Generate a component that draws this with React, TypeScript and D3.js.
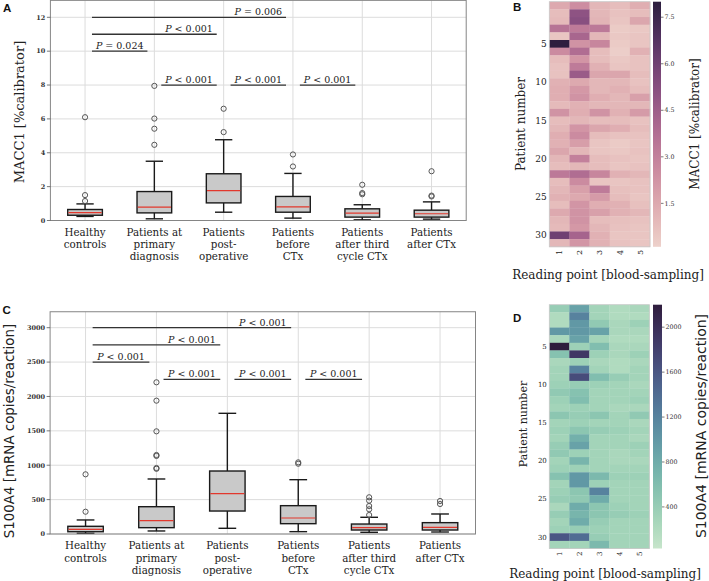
import React from "react";
import * as d3 from "d3";

const W = 709;
const H = 581;

// ---------- category labels ----------
const categoryLines = [
  ["Healthy", "controls"],
  ["Patients at", "primary", "diagnosis"],
  ["Patients", "post-", "operative"],
  ["Patients", "before", "CTx"],
  ["Patients", "after third", "cycle CTx"],
  ["Patients", "after CTx"],
];

// ---------- MACC1 box statistics ----------
const maccLow = [0.24, 0.1, 0.49, 0.14, 0.04, 0.08];
const maccQ1 = [0.31, 0.45, 1.04, 0.49, 0.2, 0.2];
const maccMed = [0.47, 0.79, 1.77, 0.81, 0.43, 0.4];
const maccQ3 = [0.65, 1.71, 2.76, 1.42, 0.69, 0.61];
const maccHigh = [0.98, 3.5, 4.77, 2.78, 0.93, 1.1];
const maccOut = [
  [6.1, 1.5, 1.15],
  [7.95, 6.02, 5.42, 4.47],
  [6.6, 5.22],
  [3.9, 3.19],
  [2.11, 1.62, 1.55],
  [2.91, 1.47, 1.42],
];
const maccTicks = [0, 2, 4, 6, 8, 10, 12];
const maccSigA = [0, 0, 0, 1, 2, 3];
const maccSigB = [3, 2, 1, 2, 3, 4];
const maccSigY = [12, 11, 10, 8, 8, 8];
const maccSigText = ["= 0.006", "< 0.001", "= 0.024", "< 0.001", "< 0.001", "< 0.001"];

// ---------- S100A4 box statistics ----------
const s100Low = [10, 44, 83, 34, 25, 29];
const s100Q1 = [33, 92, 334, 150, 58, 58];
const s100Med = [68, 194, 586, 233, 92, 97];
const s100Q3 = [112, 397, 916, 412, 145, 165];
const s100High = [204, 800, 1755, 790, 243, 291];
const s100Out = [
  [868, 324],
  [2206, 1939, 1493, 1149, 1135, 960, 948],
  [],
  [1042, 1022],
  [534, 485, 407, 359, 276],
  [480, 436],
];
const s100Ticks = [0, 500, 1000, 1500, 2000, 2500, 3000];
const s100SigA = [0, 0, 0, 1, 2, 3];
const s100SigB = [3, 2, 1, 2, 3, 4];
const s100SigY = [3000, 2750, 2500, 2250, 2250, 2250];
const s100SigText = ["< 0.001", "< 0.001", "< 0.001", "< 0.001", "< 0.001", "< 0.001"];

// ---------- heatmaps (rows = patients 0..31, cols = reading points 1..5) ----------
const readingPoints = ["1", "2", "3", "4", "5"];
const patientTicks = [5, 10, 15, 20, 25, 30];

const maccHeat = [
  [1.5, 2.5, 1.0, 0.8, 1.3],
  [0.8, 5.0, 1.0, 0.6, 0.8],
  [0.9, 5.2, 1.1, 0.5, 1.6],
  [3.5, 3.2, 3.3, 0.3, 0.4],
  [0.5, 4.1, 1.0, 0.4, 0.5],
  [8.0, 2.3, 2.8, 0.3, 0.5],
  [2.6, 3.8, 0.8, 0.2, 1.2],
  [0.8, 2.2, 0.8, 0.4, 0.6],
  [0.6, 3.2, 1.2, 0.5, 0.6],
  [0.6, 4.6, 1.6, 1.6, 0.8],
  [1.2, 1.5, 1.0, 1.0, 0.6],
  [1.3, 2.1, 1.0, 1.2, 0.8],
  [1.3, 2.3, 1.3, 1.0, 1.8],
  [0.9, 1.2, 1.0, 1.0, 1.0],
  [2.3, 1.3, 2.3, 1.2, 2.0],
  [0.8, 1.0, 0.8, 0.8, 0.6],
  [1.0, 2.2, 1.6, 1.3, 0.8],
  [1.3, 2.6, 0.8, 0.6, 0.6],
  [1.2, 1.9, 0.5, 0.3, 0.5],
  [1.6, 1.0, 0.5, 0.4, 0.6],
  [1.0, 3.0, 0.8, 0.6, 0.5],
  [0.8, 1.0, 0.8, 0.5, 0.6],
  [3.3, 3.8, 2.8, 1.2, 1.0],
  [0.8, 2.6, 0.5, 0.5, 0.6],
  [1.0, 1.8, 3.2, 0.7, 0.6],
  [1.2, 1.5, 2.0, 0.8, 0.5],
  [0.8, 2.2, 1.3, 1.2, 0.7],
  [1.5, 2.3, 1.8, 1.2, 1.0],
  [1.0, 2.3, 0.8, 0.7, 0.6],
  [0.9, 2.1, 1.0, 0.6, 0.5],
  [6.0, 4.2, 1.2, 0.5, 0.5],
  [1.0, 2.2, 1.2, 0.6, 0.5],
];
const maccHeatMin = 0.1;
const maccHeatMax = 8.0;
const maccBarTicks = [1.5, 3.0, 4.5, 6.0, 7.5];

const s100Heat = [
  [400, 900, 300, 200, 250],
  [200, 1200, 300, 200, 200],
  [200, 1000, 450, 250, 350],
  [1000, 1000, 900, 250, 250],
  [250, 900, 300, 200, 200],
  [2200, 350, 600, 250, 250],
  [550, 1900, 350, 250, 350],
  [250, 350, 250, 200, 250],
  [300, 1200, 300, 200, 300],
  [300, 1700, 600, 400, 300],
  [350, 400, 350, 300, 250],
  [450, 550, 300, 300, 300],
  [350, 600, 300, 300, 350],
  [300, 350, 300, 250, 250],
  [500, 400, 500, 300, 450],
  [300, 350, 300, 300, 250],
  [350, 500, 400, 350, 300],
  [300, 750, 300, 300, 250],
  [400, 900, 300, 300, 350],
  [450, 350, 300, 250, 300],
  [300, 700, 300, 250, 250],
  [350, 350, 300, 300, 300],
  [550, 1000, 650, 350, 350],
  [300, 1000, 350, 300, 300],
  [350, 500, 1200, 300, 300],
  [400, 450, 800, 300, 300],
  [250, 800, 500, 350, 300],
  [400, 700, 500, 400, 350],
  [300, 800, 400, 300, 300],
  [350, 400, 350, 300, 300],
  [1600, 1400, 400, 300, 300],
  [300, 300, 650, 300, 300],
];
const s100HeatMin = 30;
const s100HeatMax = 2200;
const s100BarTicks = [400, 800, 1200, 1600, 2000];

// ---------- colour maps (seaborn cubehelix_palette) ----------
function cubehelix(x: number, start: number, rot: number): string {
  const hue = 0.8;
  const xg = x;
  const a = (hue * xg * (1 - xg)) / 2;
  const phi = 2 * Math.PI * (start / 3 + rot * x);
  const c = Math.cos(phi);
  const s = Math.sin(phi);
  const r = xg + a * (-0.14861 * c + 1.78277 * s);
  const g = xg + a * (-0.29227 * c - 0.90649 * s);
  const b = xg + a * (1.97294 * c);
  const cl = (v: number) => Math.round(Math.max(0, Math.min(1, v)) * 255);
  return `rgb(${cl(r)},${cl(g)},${cl(b)})`;
}
const makeCmap = (start: number, rot: number) => (t: number) =>
  cubehelix(0.85 - 0.7 * Math.max(0, Math.min(1, t)), start, rot);
const pinkCmap = makeCmap(0, 0.4);
const greenCmap = makeCmap(0.5, -0.6);

const SERIF = "'DejaVu Serif', serif";
const SANS = "'DejaVu Sans', sans-serif";
const LETTER = "'Liberation Sans', Arial, sans-serif";

type BoxProps = {
  left: number;
  right: number;
  y: d3.ScaleLinear<number, number>;
  top: number;
  bottom: number;
  low: number[];
  q1: number[];
  med: number[];
  q3: number[];
  high: number[];
  out: number[][];
  ticks: number[];
  sigA: number[];
  sigB: number[];
  sigY: number[];
  sigText: string[];
  labelY: number;
};

function BoxPanel(p: BoxProps) {
  const x = d3
    .scaleBand<number>()
    .domain(d3.range(categoryLines.length))
    .range([p.left, p.right])
    .padding(0);
  const bw = x.bandwidth();
  const cx = (i: number) => (x(i) as number) + bw / 2;
  const boxW = bw * 0.5;
  const capW = bw * 0.25;
  return (
    <g>
      {p.ticks.map((t) => (
        <line key={"gy" + t} x1={p.left} x2={p.right} y1={p.y(t)} y2={p.y(t)} stroke="#dcdcdc" strokeWidth={1} />
      ))}
      {categoryLines.map((_, i) => (
        <line key={"gx" + i} x1={cx(i)} x2={cx(i)} y1={p.top} y2={p.bottom} stroke="#dcdcdc" strokeWidth={1} />
      ))}
      {categoryLines.map((_, i) => (
        <g key={"b" + i}>
          <line x1={cx(i)} x2={cx(i)} y1={p.y(p.q3[i])} y2={p.y(p.high[i])} stroke="#1a1a1a" strokeWidth={1.4} />
          <line x1={cx(i)} x2={cx(i)} y1={p.y(p.q1[i])} y2={p.y(p.low[i])} stroke="#1a1a1a" strokeWidth={1.4} />
          <line x1={cx(i) - capW / 2} x2={cx(i) + capW / 2} y1={p.y(p.high[i])} y2={p.y(p.high[i])} stroke="#1a1a1a" strokeWidth={1.4} />
          <line x1={cx(i) - capW / 2} x2={cx(i) + capW / 2} y1={p.y(p.low[i])} y2={p.y(p.low[i])} stroke="#1a1a1a" strokeWidth={1.4} />
          <rect
            x={cx(i) - boxW / 2}
            y={p.y(p.q3[i])}
            width={boxW}
            height={p.y(p.q1[i]) - p.y(p.q3[i])}
            fill="#c9c9c9"
            stroke="#1a1a1a"
            strokeWidth={1.4}
          />
          <line x1={cx(i) - boxW / 2 + 0.7} x2={cx(i) + boxW / 2 - 0.7} y1={p.y(p.med[i])} y2={p.y(p.med[i])} stroke="#e2382d" strokeWidth={1.2} />
          {p.out[i].map((v, k) => (
            <circle key={k} cx={cx(i)} cy={p.y(v)} r={2.6} fill="none" stroke="#555" strokeWidth={1} />
          ))}
        </g>
      ))}
      {p.sigA.map((a, k) => {
        const b = p.sigB[k];
        const yy = p.y(p.sigY[k]);
        return (
          <g key={"s" + k}>
            <line x1={cx(a) + 0.1 * bw} x2={cx(b) - 0.1 * bw} y1={yy} y2={yy} stroke="#333" strokeWidth={1.3} />
            <text x={cx(b) - 0.5 * bw} y={yy - 2} textAnchor="middle" fontFamily={SERIF} fontSize={9.5} fill="#222">
              <tspan fontStyle="italic">P</tspan>
              {" " + p.sigText[k]}
            </text>
          </g>
        );
      })}
      <rect x={p.left} y={p.top} width={p.right - p.left} height={p.bottom - p.top} fill="none" stroke="#858585" strokeWidth={1} />
      {p.ticks.map((t) => (
        <g key={"t" + t}>
          <line x1={p.left - 3.5} x2={p.left} y1={p.y(t)} y2={p.y(t)} stroke="#555" strokeWidth={0.8} />
          <text x={p.left - 5} y={p.y(t)} dy="0.35em" textAnchor="end" fontFamily={SERIF} fontSize={6.5} fontWeight="bold" fill="#333">
            {t}
          </text>
        </g>
      ))}
      {categoryLines.map((lines, i) => (
        <text key={"xl" + i} textAnchor="middle" fontFamily={SERIF} fontSize={10.3} fill="#222">
          {lines.map((ln, k) => (
            <tspan key={k} x={cx(i)} y={p.labelY + k * 12.3}>
              {ln}
            </tspan>
          ))}
        </text>
      ))}
    </g>
  );
}

type HeatProps = {
  data: number[][];
  left: number;
  right: number;
  top: number;
  bottom: number;
  vmin: number;
  vmax: number;
  cmap: (t: number) => string;
  barTicks: number[];
  barLeft: number;
  barRight: number;
  id: string;
  yTickSize: number;
  xTickSize: number;
};

function Heatmap(p: HeatProps) {
  const nRows = p.data.length;
  const x = d3.scaleBand<number>().domain(d3.range(readingPoints.length)).range([p.left, p.right]);
  const y = d3.scaleBand<number>().domain(d3.range(nRows)).range([p.top, p.bottom]);
  const norm = d3.scaleLinear().domain([p.vmin, p.vmax]).range([0, 1]).clamp(true);
  const barY = d3.scaleLinear().domain([p.vmin, p.vmax]).range([p.bottom, p.top]);
  const stops = d3.range(0, 1.0001, 0.05);
  return (
    <g>
      <defs>
        <linearGradient id={p.id} x1="0" y1="1" x2="0" y2="0">
          {stops.map((s) => (
            <stop key={s} offset={s} stopColor={p.cmap(s)} />
          ))}
        </linearGradient>
      </defs>
      {p.data.map((row, r) =>
        row.map((v, c) => (
          <rect
            key={r + "-" + c}
            x={x(c)}
            y={y(r)}
            width={x.bandwidth() + 0.3}
            height={y.bandwidth() + 0.3}
            fill={p.cmap(norm(v))}
          />
        ))
      )}
      <rect x={p.left} y={p.top} width={p.right - p.left} height={p.bottom - p.top} fill="none" stroke="#c8c8c8" strokeWidth={0.8} />
      {patientTicks.map((t) => (
        <text
          key={"py" + t}
          x={p.left - 2.5}
          y={(y(t) as number) + y.bandwidth() / 2}
          dy="0.35em"
          textAnchor="end"
          fontFamily={SERIF}
          fontSize={p.yTickSize}
          fill="#222"
        >
          {t}
        </text>
      ))}
      {readingPoints.map((lbl, c) => {
        const xx = (x(c) as number) + x.bandwidth() / 2;
        const yy = p.bottom + 3;
        return (
          <text
            key={"rx" + c}
            transform={`translate(${xx},${yy}) rotate(-90)`}
            dy="0.35em"
            textAnchor="end"
            fontFamily={SERIF}
            fontSize={p.xTickSize}
            fill="#222"
          >
            {lbl}
          </text>
        );
      })}
      <rect x={p.barLeft} y={p.top} width={p.barRight - p.barLeft} height={p.bottom - p.top} fill={`url(#${p.id})`} />
      {p.barTicks.map((t) => (
        <g key={"bt" + t}>
          <line x1={p.barRight} x2={p.barRight + 2.5} y1={barY(t)} y2={barY(t)} stroke="#444" strokeWidth={0.7} />
          <text x={p.barRight + 3.5} y={barY(t)} dy="0.35em" fontFamily={SERIF} fontSize={6.3} fill="#333">
            {t >= 100 ? String(t) : t.toFixed(1)}
          </text>
        </g>
      ))}
    </g>
  );
}

export default function App() {
  const yA = d3.scaleLinear().domain([0, 12]).range([220.5, 17.3]);
  const topA = yA(13);
  const yC = d3.scaleLinear().domain([0, 3000]).range([534, 327.7]);
  const topC = yC(3232);

  return (
    <svg
      width={W}
      height={H}
      viewBox={`0 0 ${W} ${H}`}
      style={{ position: "absolute", left: 0, top: 0, background: "#fff" }}
    >
      <rect x={0} y={0} width={W} height={H} fill="#fff" />

      {/* ---- A ---- */}
      <BoxPanel
        left={50.4}
        right={466.2}
        y={yA}
        top={topA}
        bottom={220.5}
        low={maccLow}
        q1={maccQ1}
        med={maccMed}
        q3={maccQ3}
        high={maccHigh}
        out={maccOut}
        ticks={maccTicks}
        sigA={maccSigA}
        sigB={maccSigB}
        sigY={maccSigY}
        sigText={maccSigText}
        labelY={235.7}
      />
      <text transform="translate(19,112) rotate(-90)" textAnchor="middle" dy="0.35em" fontFamily={SERIF} fontSize={13} fill="#222">
        MACC1 [%calibrator]
      </text>
      <text x={3} y={12} fontFamily={LETTER} fontWeight="bold" fontSize={11.5} fill="#111">A</text>

      {/* ---- C ---- */}
      <BoxPanel
        left={50.1}
        right={475.5}
        y={yC}
        top={topC}
        bottom={534}
        low={s100Low}
        q1={s100Q1}
        med={s100Med}
        q3={s100Q3}
        high={s100High}
        out={s100Out}
        ticks={s100Ticks}
        sigA={s100SigA}
        sigB={s100SigB}
        sigY={s100SigY}
        sigText={s100SigText}
        labelY={549.3}
      />
      <text transform="translate(9.5,431) rotate(-90)" textAnchor="middle" dy="0.35em" fontFamily={SANS} fontSize={13.4} fill="#222">
        S100A4 [mRNA copies/reaction]
      </text>
      <text x={2.5} y={314} fontFamily={LETTER} fontWeight="bold" fontSize={11.5} fill="#111">C</text>

      {/* ---- B ---- */}
      <Heatmap
        data={maccHeat}
        left={549.3}
        right={650}
        top={1.7}
        bottom={246.8}
        vmin={maccHeatMin}
        vmax={maccHeatMax}
        cmap={pinkCmap}
        barTicks={maccBarTicks}
        barLeft={653}
        barRight={661}
        id="gradB"
        yTickSize={9}
        xTickSize={8}
      />
      <text transform="translate(521,124) rotate(-90)" textAnchor="middle" dy="0.35em" fontFamily={SERIF} fontSize={12} fill="#222">
        Patient number
      </text>
      <text transform="translate(695,124) rotate(-90)" textAnchor="middle" dy="0.35em" fontFamily={SERIF} fontSize={12} fill="#222">
        MACC1 [%calibrator]
      </text>
      <text x={608} y={279} textAnchor="middle" fontFamily={SERIF} fontSize={12} fill="#222">
        Reading point [blood-sampling]
      </text>
      <text x={513} y={10.5} fontFamily={LETTER} fontWeight="bold" fontSize={11.5} fill="#111">B</text>

      {/* ---- D ---- */}
      <Heatmap
        data={s100Heat}
        left={549.3}
        right={649.3}
        top={304.7}
        bottom={548.5}
        vmin={s100HeatMin}
        vmax={s100HeatMax}
        cmap={greenCmap}
        barTicks={s100BarTicks}
        barLeft={653}
        barRight={662}
        id="gradD"
        yTickSize={7}
        xTickSize={7}
      />
      <text transform="translate(523,424) rotate(-90)" textAnchor="middle" dy="0.35em" fontFamily={SERIF} fontSize={11} fill="#222">
        Patient number
      </text>
      <text transform="translate(701,426) rotate(-90)" textAnchor="middle" dy="0.35em" fontFamily={SANS} fontSize={14} fill="#222">
        S100A4 [mRNA copies/reaction]
      </text>
      <text x={605} y={578} textAnchor="middle" fontFamily={SERIF} fontSize={12} fill="#222">
        Reading point [blood-sampling]
      </text>
      <text x={513} y={322} fontFamily={LETTER} fontWeight="bold" fontSize={11.5} fill="#111">D</text>
    </svg>
  );
}
